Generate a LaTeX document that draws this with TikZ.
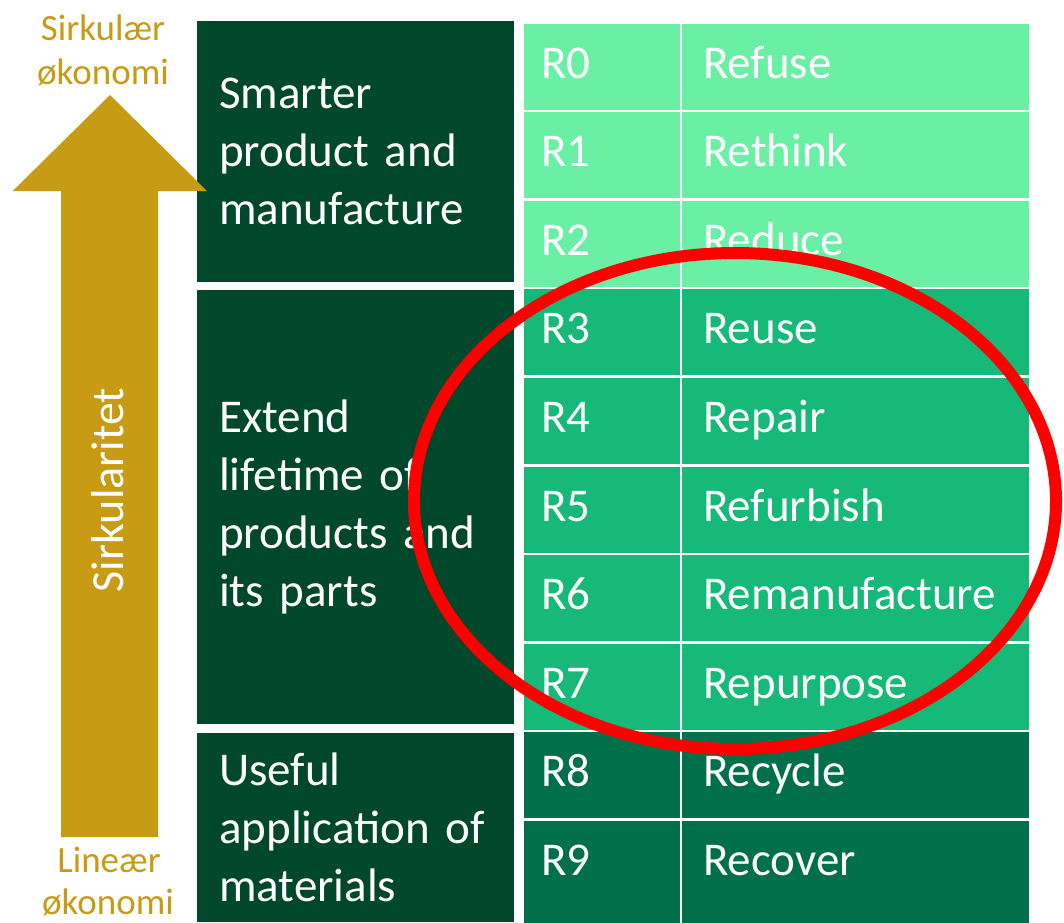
\documentclass[tikz,border=0pt]{standalone}
\usepackage{fontspec}
\setmainfont{Carlito}
\usepackage{xcolor}
\usetikzlibrary{positioning}

\definecolor{boxgreen}{RGB}{0,72,43}
\definecolor{lightgreen}{RGB}{105,240,165}
\definecolor{midgreen}{RGB}{23,185,120}
\definecolor{deepgreen}{RGB}{0,112,74}
\definecolor{arrowgold}{RGB}{200,155,20}

\DeclareRobustCommand{\groupfont}{\fontsize{47}{58}\selectfont\spaceskip=10.8pt\relax}

\begin{document}
\begin{tikzpicture}[x=1pt, y=-1pt,
  cell/.style={draw=white, line width=2.5pt, inner sep=0pt, anchor=north west},
  celltext/.style={text=white, font=\fontsize{47}{58}\selectfont, anchor=base west, inner sep=0pt},
  groupbox/.style={fill=boxgreen, anchor=north west, minimum width=317pt, text width=273pt,
    inner xsep=22pt, inner ysep=0pt, align=left, text=white, font=\groupfont},
  goldtext/.style={text=arrowgold, font=\fontsize{37}{44}\selectfont, anchor=base, inner sep=0pt}]
  \useasboundingbox (0,0) rectangle (1064,922);
  \clip (0,0) rectangle (1064,922);

  % Draw the three group boxes
  \node[groupbox, minimum height=261pt] (smart) at (197,21) {Smarter\\product and\\manufacture};
  \node[groupbox, minimum height=434pt] (extend) at (197,290) {Extend\\lifetime of\\products and\\its parts};
  \node[groupbox, minimum height=189pt] (useful) at (197,733) {Useful\\application of\\materials};

  % Fill in the R-ladder rows (the last one runs off the bottom)
  \foreach \i/\word/\col in {0/Refuse/lightgreen, 1/Rethink/lightgreen, 2/Reduce/lightgreen,
      3/Reuse/midgreen, 4/Repair/midgreen, 5/Refurbish/midgreen, 6/Remanufacture/midgreen,
      7/Repurpose/midgreen, 8/Recycle/deepgreen, 9/Recover/deepgreen} {
    \pgfmathsetmacro{\rowh}{\i==9 ? 130 : 88.6}
    \node[cell, fill=\col, minimum width=158.5pt, minimum height=\rowh pt] (code\i) at (521, {21+88.6*\i}) {};
    \node[cell, fill=\col, minimum width=349pt, minimum height=\rowh pt] (step\i) at (679.5, {21+88.6*\i}) {};
    \node[celltext] (codetxt\i) at (541, {78+88.6*\i}) {R\i};
    \node[celltext] (steptxt\i) at (703, {78+88.6*\i}) {\word};
  }

  % Circularity arrow
  \fill[arrowgold] (61,837) -- (61,191) -- (12.7,191) -- (110,95) -- (207,191)
    -- (158,191) -- (158,837) -- cycle;
  \node[rotate=90, anchor=base, text=white, inner sep=0pt,
    font=\fontsize{46}{55}\selectfont] (circ) at (123,490) {Sirkularitet};

  \node[goldtext] (topa) at (103,40) {Sirkulær};
  \node[goldtext] (topb) at (103,84) {økonomi};
  \node[goldtext] (bota) at (109,872) {Lineær};
  \node[goldtext] (botb) at (108,914) {økonomi};

  % Red ring round R3 to R7
  \draw[red, line width=12pt] (735,501) ellipse [x radius=321, y radius=248];
\end{tikzpicture}
\end{document}
